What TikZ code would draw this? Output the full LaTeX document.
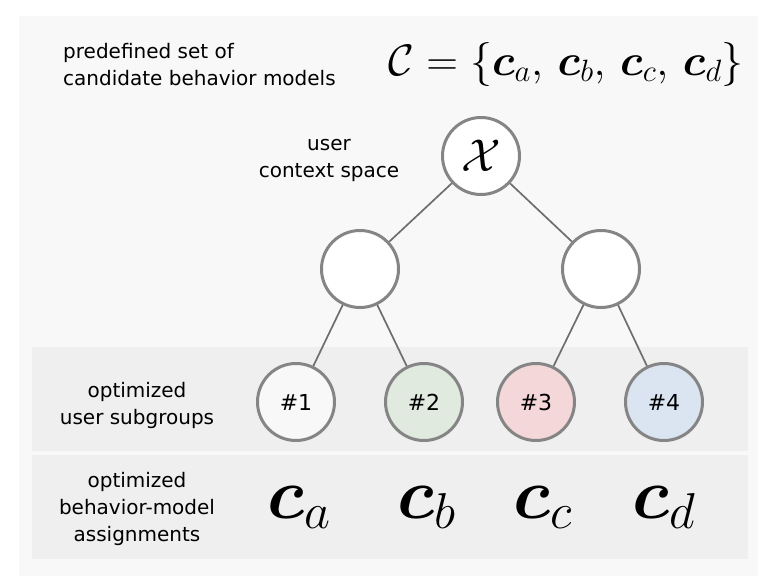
\RequirePackage{fix-cm}
\documentclass[tikz,border=0pt]{standalone}
\usepackage{amsmath}
\usepackage{bm}
\usepackage{fontspec}
\setmainfont{DejaVu Sans}
\definecolor{cgray}{HTML}{858585}
\definecolor{egray}{HTML}{6E6E6E}
\definecolor{panelc}{HTML}{F8F8F8}
\definecolor{bandc}{HTML}{EFEFEF}
\definecolor{fone}{HTML}{F8F8F8}
\definecolor{ftwo}{HTML}{E0EADF}
\definecolor{fthree}{HTML}{F4D7D8}
\definecolor{ffour}{HTML}{DBE5F1}
\begin{document}
\begin{tikzpicture}[x=1pt,y=-1pt,
  circ/.style={circle, draw=cgray, line width=3pt, minimum size=77pt, inner sep=0pt, fill=white, font=\fontsize{22}{24}\selectfont},
  edge/.style={draw=egray, line width=1.7pt},
  lbl/.style={font=\fontsize{20}{27}\selectfont, text=black, inner sep=0pt, anchor=base},
  cbig/.style={anchor=base, inner sep=0pt, font=\fontsize{72}{80}\selectfont}]
\useasboundingbox (0,0) rectangle (768,584);
\fill[white] (0,0) rectangle (768,584);
\fill[panelc] (19,16) rectangle (758,576);
\fill[bandc] (32,347) rectangle (748,451);
\fill[bandc] (32,455) rectangle (748,559);

\node[lbl, anchor=base west] (p1) at (63,58) {predefined set of};
\node[lbl, anchor=base west] (p2) at (63,85) {candidate behavior models};
\node[inner sep=0pt] (cset) at (566,64) {\fontsize{44}{50}\selectfont $\mathcal{C}=\{\bm{c}_a,\,\bm{c}_b,\,\bm{c}_c,\,\bm{c}_d\}$};

\node[lbl] (u1) at (329,150) {user};
\node[lbl] (u2) at (329,177) {context space};
\node[lbl] (s1) at (137,397) {optimized};
\node[lbl] (s2) at (137,424) {user subgroups};
\node[lbl] (a1) at (137,487) {optimized};
\node[lbl] (a2) at (137,514) {behavior-model};
\node[lbl] (a3) at (137,541) {assignments};

\node[circ, font=\fontsize{46}{50}\selectfont] (root) at (481,156) {$\mathcal{X}$};
\node[circ] (L) at (360,269) {};
\node[circ] (R) at (601,269) {};
\node[circ, fill=fone] (n1) at (296,402) {\#1};
\node[circ, fill=ftwo] (n2) at (424,402) {\#2};
\node[circ, fill=fthree] (n3) at (536,402) {\#3};
\node[circ, fill=ffour] (n4) at (664,402) {\#4};

\draw[edge] (root) -- (L);
\draw[edge] (root) -- (R);
\draw[edge] (L) -- (n1);
\draw[edge] (L) -- (n2);
\draw[edge] (R) -- (n3);
\draw[edge] (R) -- (n4);

\node[cbig] (ca) at (299,518) {$\bm{c}_a$};
\node[cbig] (cb) at (427,518) {$\bm{c}_b$};
\node[cbig] (cc) at (543,518) {$\bm{c}_c$};
\node[cbig] (cd) at (664,518) {$\bm{c}_d$};
\end{tikzpicture}
\end{document}
